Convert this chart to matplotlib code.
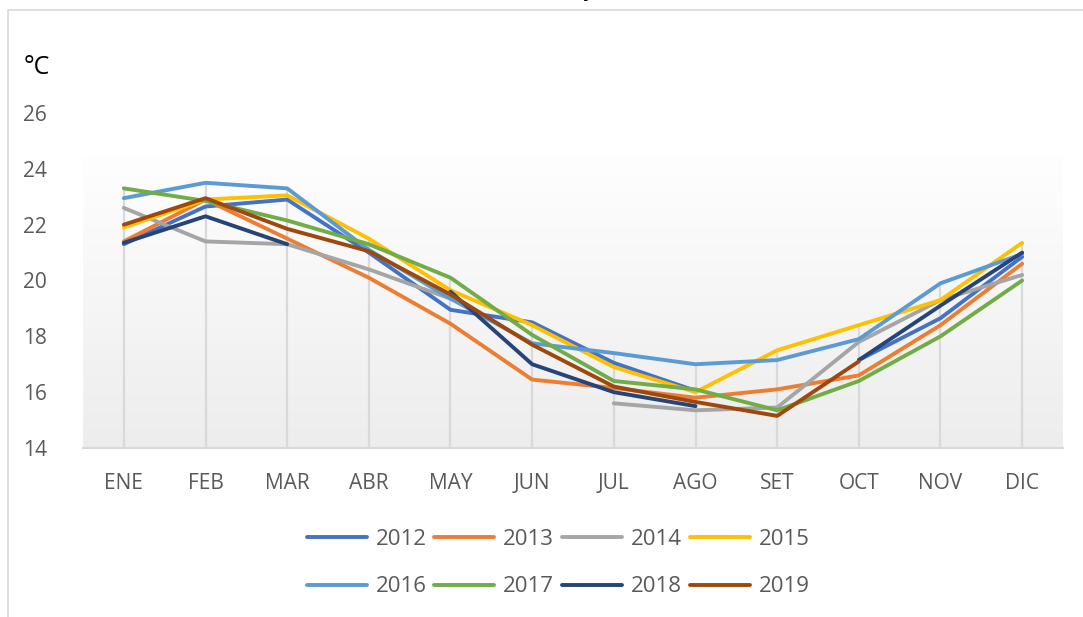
import numpy as np
import matplotlib
matplotlib.use('Agg')
import matplotlib.pyplot as plt
from matplotlib.patches import Rectangle

nan = np.nan
months = ['ENE', 'FEB', 'MAR', 'ABR', 'MAY', 'JUN', 'JUL', 'AGO', 'SET', 'OCT', 'NOV', 'DIC']
years = ['2012', '2013', '2014', '2015', '2016', '2017', '2018', '2019']

t2012 = [21.3, 22.65, 22.9, 21.0, 18.95, 18.5, 17.05, 16.05, nan, 17.15, 18.65, 20.85]
t2013 = [21.4, 22.9, 21.5, 20.1, 18.45, 16.45, 16.15, 15.8, 16.1, 16.6, 18.4, 20.6]
t2014 = [22.6, 21.4, 21.3, 20.4, 19.35, nan, 15.6, 15.35, 15.45, 17.8, 19.3, 20.2]
t2015 = [21.9, 22.9, 23.05, 21.5, 19.65, 18.4, 16.9, 16.0, 17.5, 18.4, 19.3, 21.35]
t2016 = [22.95, 23.5, 23.3, 21.1, 19.35, 17.75, 17.4, 17.0, 17.15, 17.9, 19.9, 20.95]
t2017 = [23.3, 22.85, 22.15, 21.3, 20.1, 18.05, 16.4, 16.1, 15.35, 16.4, 18.0, 20.0]
t2018 = [21.35, 22.3, 21.3, nan, 19.6, 17.0, 16.0, 15.5, nan, 17.15, 19.1, 21.0]
t2019 = [22.0, 22.95, 21.85, 21.05, 19.5, 17.7, 16.2, 15.65, 15.15, 17.1, nan, nan]

series = [t2012, t2013, t2014, t2015, t2016, t2017, t2018, t2019]
colors = ['#4472C4', '#ED7D31', '#A5A5A5', '#FFC000', '#5B9BD5', '#70AD47', '#264478', '#9E480E']

plt.rcParams['font.family'] = ['Open Sans', 'DejaVu Sans']

fig = plt.figure(figsize=(10.83, 6.17), dpi=100)
ax = fig.add_axes([83 / 1083, 1 - 448 / 617, 980 / 1083, 335 / 617])

# chart border (top and left edges visible)
fig.patches.append(Rectangle((8 / 1083, -0.1), 1.2, 1 - 10 / 617 + 0.1,
                             transform=fig.transFigure, fill=False,
                             edgecolor='#d9d9d9', linewidth=1.2))

x = np.arange(len(months))

# plot area gradient
grad = np.linspace(0, 1, 100).reshape(-1, 1)
ax.imshow(grad, extent=[-0.5, 11.5, 14, 24.4], aspect='auto', origin='upper',
          cmap=matplotlib.colors.LinearSegmentedColormap.from_list('g', ['#fefefe', '#ededed']),
          zorder=0)

# drop lines
tops = np.nanmax(np.array(series), axis=0)
ax.vlines(x, 14, tops, color='#d9d9d9', linewidth=1.6, zorder=1)

lines = []
for vals, c, lab in zip(series, colors, years):
    ln, = ax.plot(x, vals, color=c, linewidth=2.8, label=lab, zorder=3, solid_capstyle='round')
    lines.append(ln)

ax.set_xlim(-0.5, 11.5)
ax.set_ylim(14, 26)
ax.set_yticks([14, 16, 18, 20, 22, 24, 26])
ax.set_xticks(x)
ax.set_xticklabels(months)
for s in ['top', 'right', 'left']:
    ax.spines[s].set_visible(False)
ax.spines['bottom'].set_color('#d9d9d9')
ax.spines['bottom'].set_linewidth(1.5)
ax.tick_params(axis='both', length=0, labelcolor='#595959', labelsize=15)
ax.tick_params(axis='x', pad=18)
ax.tick_params(axis='y', pad=26)
ax.set_facecolor('none')

fig.text(24 / 1083, 1 - 68 / 617, '°C', fontsize=18, color='black', va='center', ha='left')
fig.text(633 / 1083, 1 + 11 / 617, 'Temperatura (°C)', fontsize=17, fontweight='bold',
         color='black', ha='center', va='center')

# legend filled row by row, as in the reference
order = [0, 4, 1, 5, 2, 6, 3, 7]
fig.legend([lines[i] for i in order], [years[i] for i in order],
           loc='center', bbox_to_anchor=(558 / 1083, 1 - 563 / 617), ncol=4, frameon=False,
           fontsize=16, handlelength=2.7, handletextpad=0.4, columnspacing=0.35,
           labelspacing=1.2, labelcolor='#595959')

fig.savefig('out.png', dpi=100)
